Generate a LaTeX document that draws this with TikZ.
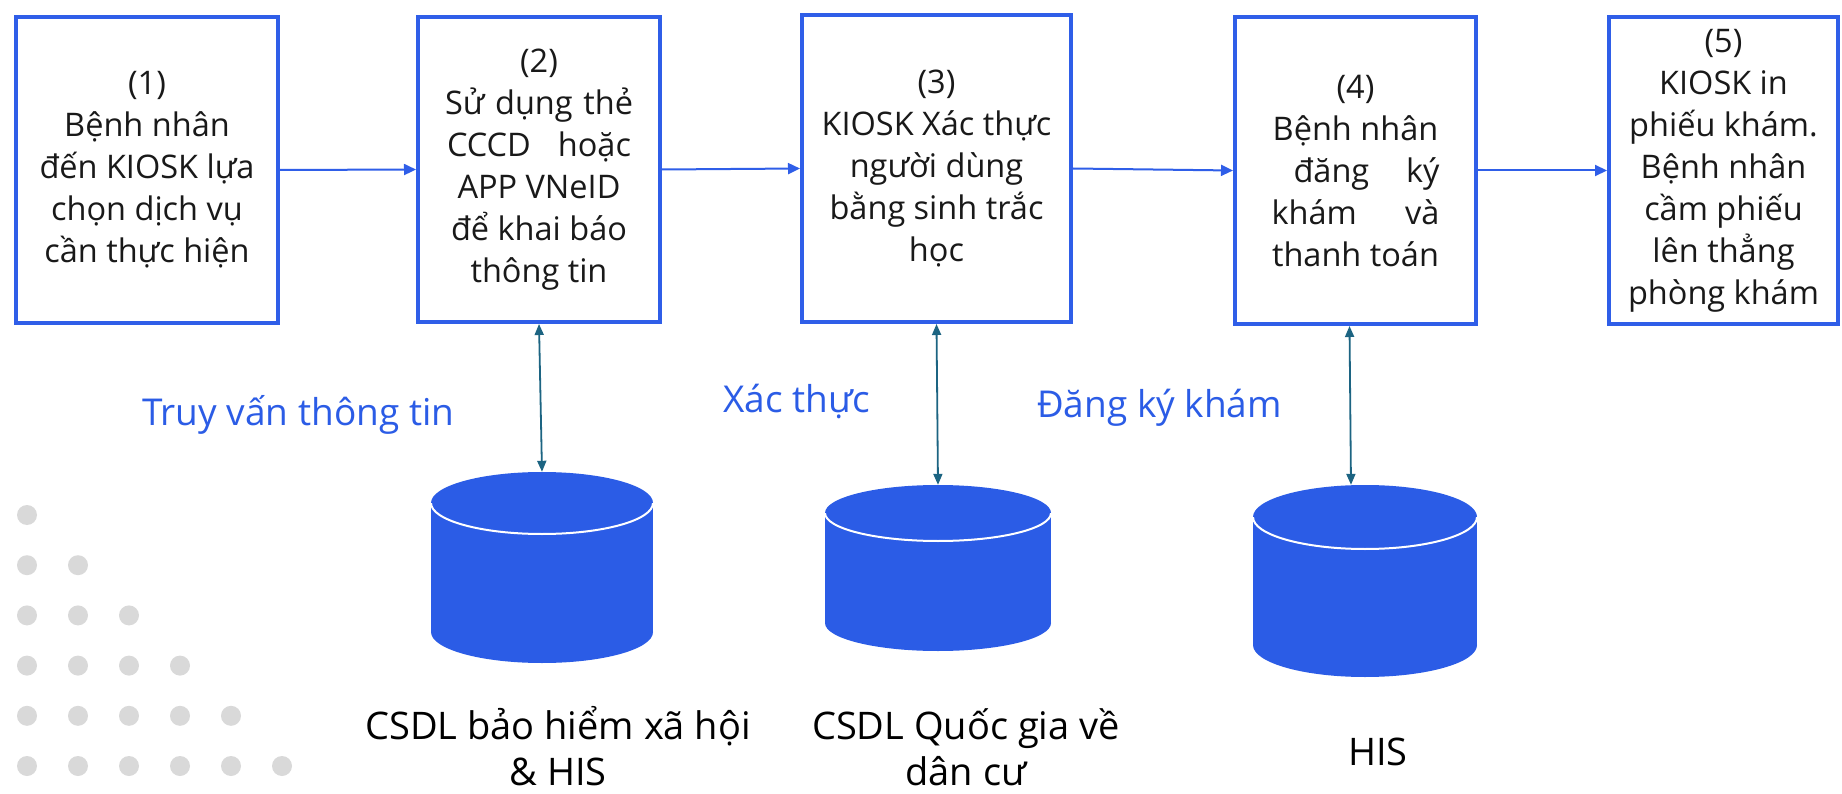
\documentclass[tikz,border=0pt]{standalone}
\usepackage{fontspec}
\setmainfont{Open Sans}
\usetikzlibrary{arrows.meta,calc}
\definecolor{boxblue}{RGB}{47,94,232}
\definecolor{dbblue}{RGB}{43,92,230}
\definecolor{linkteal}{RGB}{28,100,130}
\definecolor{labelblue}{RGB}{43,92,230}
\definecolor{dotgrey}{RGB}{217,217,217}
\definecolor{txt}{RGB}{25,25,25}
\newcommand{\dbcyl}[6]{% name, cx, top-ellipse-cy, bottom-ellipse-cy, rx, ry
  \fill[dbblue] (#2-#5,#3) rectangle (#2+#5,#4);
  \fill[dbblue] (#2,#3) ellipse[x radius=#5, y radius=#6];
  \fill[dbblue] (#2,#4) ellipse[x radius=#5, y radius=#6];
  \begin{scope}
    \clip (#2-#5-4,#3) rectangle (#2+#5+4,#3+#6+4);
    \draw[white, line width=2pt] (#2,#3) ellipse[x radius=#5, y radius=#6];
  \end{scope}
  \node[inner sep=0pt, minimum width=2*#5, minimum height=#4-#3+2*#6] (#1) at (#2,{(#3+#4)/2}) {};
}
\begin{document}
\begin{tikzpicture}[x=1pt,y=-1pt,
  stepbox/.style={draw=boxblue, line width=4pt, inner sep=0pt, text=txt,
    font=\fontsize{32.5}{42}\selectfont, align=center},
  flow/.style={draw=boxblue, line width=2pt, -{Triangle[length=12pt,width=11pt]}},
  link/.style={draw=linkteal, line width=1.8pt,
    {Triangle[length=11pt,width=9pt]}-{Triangle[length=11pt,width=9pt]}},
  edgelabel/.style={text=labelblue, font=\fontsize{37}{44}\selectfont, inner sep=0pt},
  dblabel/.style={text=black, font=\fontsize{38}{46}\selectfont, inner sep=0pt, align=center}]
\useasboundingbox (0,0) rectangle (1842,794);
\fill[white] (0,0) rectangle (1842,794);

% dots
\foreach \r in {1,...,6}{
  \foreach \c in {1,...,\r}{
    \fill[dotgrey] ({27+51*(\c-1)},{515+50.2*(\r-1)}) circle[radius=10];
  }
}

% step boxes
\node[stepbox, minimum width=262, minimum height=306] (box1) at (147,170)
  {(1)\\Bệnh nhân\\đến KIOSK lựa\\chọn dịch vụ\\cần thực hiện};
\node[stepbox, minimum width=242, minimum height=305] (box2) at (539,169.5)
  {(2)\\\hbox to 188pt{Sử\hfill dụng\hfill thẻ}\\\hbox to 184pt{CCCD\hfill hoặc}\\APP VNeID\\để khai báo\\thông tin};
\node[stepbox, minimum width=269, minimum height=307] (box3) at (936.5,168.5)
  {(3)\\KIOSK Xác thực\\người dùng\\bằng sinh trắc\\học};
\node[stepbox, minimum width=241, minimum height=307] (box4) at (1355.5,170.5)
  {(4)\\Bệnh nhân\\\hbox to 168pt{\hspace{22pt}đăng\hfill ký}\\\hbox to 168pt{khám\hfill và}\\thanh toán};
\node[stepbox, minimum width=229, minimum height=307] (box5) at (1723.5,170.5)
  {(5)\\KIOSK in\\phiếu khám.\\Bệnh nhân\\cầm phiếu\\lên thẳng\\phòng khám};

% flow arrows
\draw[flow] (box1.east) -- (box2.west);
\draw[flow] (box2.east) -- (box3.west);
\draw[flow] (box3.east) -- (box4.west);
\draw[flow] (box4.east) -- (box5.west);

% databases
\dbcyl{db1}{542}{503}{632}{111}{31}
\dbcyl{db2}{938}{513}{623}{113}{28}
\dbcyl{db3}{1365}{517}{645}{112}{32}

% links
\draw[link] (box2.south) -- (db1.north);
\draw[link] (box3.south) -- (db2.north);
\draw[link] ([xshift=-6pt]box4.south) -- ([xshift=-14pt]db3.north);

% link labels
\node[edgelabel, anchor=base west] (lab1) at (142,425) {Truy vấn thông tin};
\node[edgelabel, anchor=base west] (lab2) at (723,412) {Xác thực};
\node[edgelabel, anchor=base west] (lab3) at (1037,417) {Đăng ký khám};

% database labels
\node[dblabel] (dbl1) at (558,746) {CSDL bảo hiểm xã hội\\\& HIS};
\node[dblabel] (dbl2) at (966,747) {CSDL Quốc gia về\\dân cư};
\node[dblabel, anchor=base] (dbl3) at (1378,765) {HIS};
\end{tikzpicture}
\end{document}
